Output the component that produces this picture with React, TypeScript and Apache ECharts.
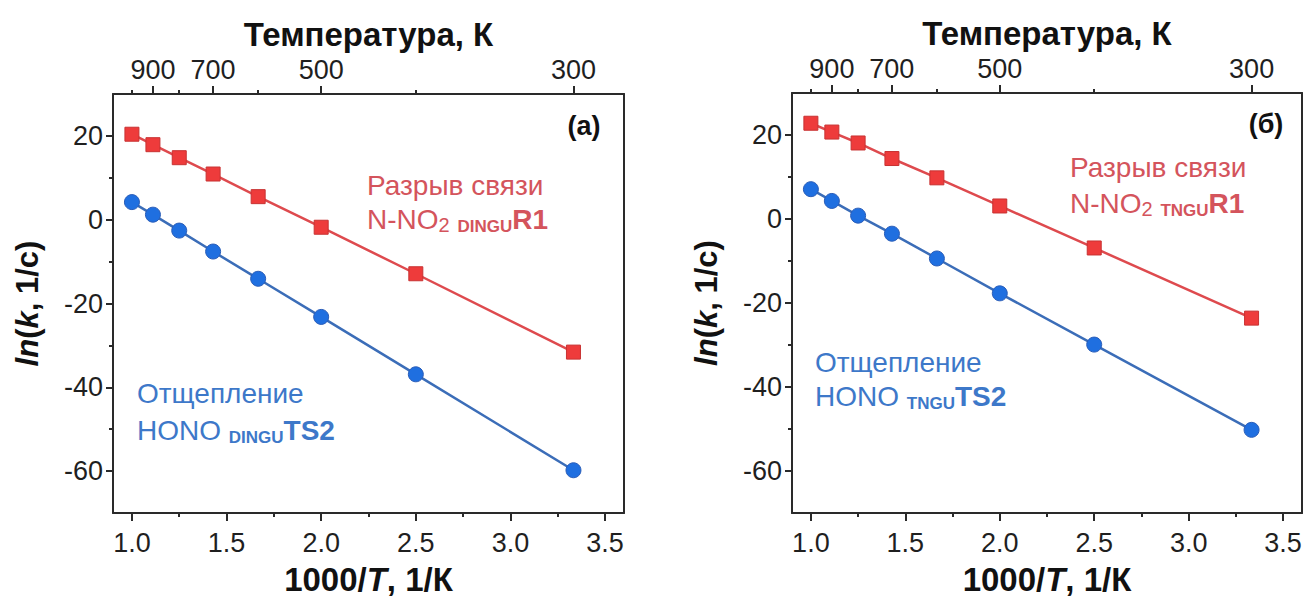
import React, { useEffect, useRef } from 'react';
import * as echarts from 'echarts';

// 1000/T values (T = 1000, 900, 800, 700, 600, 500, 400, 300 K)
const xVals = [1.0, 1.111, 1.25, 1.429, 1.667, 2.0, 2.5, 3.333];
// panel (а) DINGU
const aR1 = [20.4, 17.9, 14.8, 10.9, 5.5, -1.8, -12.9, -31.6];
const aTS2 = [4.2, 1.2, -2.6, -7.6, -14.1, -23.2, -36.9, -59.8];
// panel (б) TNGU
const bR1 = [22.8, 20.7, 18.1, 14.4, 9.8, 3.1, -6.9, -23.6];
const bTS2 = [7.1, 4.3, 0.8, -3.5, -9.4, -17.7, -29.9, -50.2];

const xMajor = [1.0, 1.5, 2.0, 2.5, 3.0, 3.5];
const xMinor = [1.25, 1.75, 2.25, 2.75, 3.25];
const yMajor = [-60, -40, -20, 0, 20];
const yMinor = [-50, -30, -10, 10];
const tempMajor = [900, 700, 500, 300];
const tempMinor = [1000, 800, 600, 400];

const FONT = '"Liberation Sans", Arial, sans-serif';
const AX = '#2a2a2a';
const RED = '#ee3b3b';
const RED_LINE = '#de4a4e';
const BLUE = '#1f6fe0';
const BLUE_LINE = '#3b6db8';
const RED_TXT = '#d4545c';
const BLUE_TXT = '#3d78c9';
const LBL = 27;
const TITLE = 33;

const tickStyle = { color: AX, width: 2 };

function xAxesFor(g: number) {
  const common = { gridIndex: g, type: 'value', min: 0.9, max: 3.6, splitLine: { show: false } };
  return [
    {
      ...common,
      position: 'bottom',
      axisLine: { show: true, onZero: false, lineStyle: tickStyle },
      axisTick: { show: true, length: 8, customValues: xMajor, lineStyle: tickStyle },
      axisLabel: {
        show: true, customValues: xMajor, formatter: (v: number) => v.toFixed(1),
        fontSize: LBL, color: '#1f1f1f', margin: 16, fontFamily: FONT,
      },
      name: '{b|1000/}{i|T}{b|, 1/К}',
      nameLocation: 'middle',
      nameGap: 50,
      nameTextStyle: {
        rich: {
          b: { fontSize: TITLE, fontWeight: 'bold', color: '#111', fontFamily: FONT },
          i: { fontSize: TITLE, fontWeight: 'bold', fontStyle: 'italic', color: '#111', fontFamily: FONT },
        },
      },
    },
    {
      ...common,
      position: 'bottom',
      axisLine: { show: false, onZero: false },
      axisTick: { show: true, length: 4, customValues: xMinor, lineStyle: tickStyle },
      axisLabel: { show: false },
    },
    {
      ...common,
      position: 'top',
      axisLine: { show: true, onZero: false, lineStyle: tickStyle },
      axisTick: { show: true, length: 8, customValues: tempMajor.map((t) => 1000 / t), lineStyle: tickStyle },
      axisLabel: {
        show: true, customValues: tempMajor.map((t) => 1000 / t),
        formatter: (v: number) => String(Math.round(1000 / v)),
        fontSize: LBL, color: '#1f1f1f', margin: 11, fontFamily: FONT,
      },
      name: 'Температура, К',
      nameLocation: 'middle',
      nameGap: 42,
      nameTextStyle: { fontSize: TITLE, fontWeight: 'bold', color: '#111', fontFamily: FONT },
    },
    {
      ...common,
      position: 'top',
      axisLine: { show: false, onZero: false },
      axisTick: { show: true, length: 4, customValues: tempMinor.map((t) => 1000 / t), lineStyle: tickStyle },
      axisLabel: { show: false },
    },
  ];
}

function yAxesFor(g: number) {
  const common = { gridIndex: g, type: 'value', min: -70, max: 30, splitLine: { show: false } };
  return [
    {
      ...common,
      position: 'left',
      axisLine: { show: true, onZero: false, lineStyle: tickStyle },
      axisTick: { show: true, length: 7, customValues: yMajor, lineStyle: tickStyle },
      axisLabel: {
        show: true, customValues: yMajor, fontSize: LBL, color: '#1f1f1f', margin: 10, fontFamily: FONT,
      },
      name: '{i|ln}{b|(}{i|k}{b|, 1/с)}',
      nameLocation: 'middle',
      nameRotate: 90,
      nameGap: 70,
      nameTextStyle: {
        rich: {
          b: { fontSize: 31, fontWeight: 'bold', color: '#111', fontFamily: FONT },
          i: { fontSize: 31, fontWeight: 'bold', fontStyle: 'italic', color: '#111', fontFamily: FONT },
        },
      },
    },
    {
      ...common,
      position: 'left',
      axisLine: { show: false, onZero: false },
      axisTick: { show: true, length: 4, customValues: yMinor, lineStyle: tickStyle },
      axisLabel: { show: false },
    },
    {
      ...common,
      position: 'right',
      axisLine: { show: true, onZero: false, lineStyle: tickStyle },
      axisTick: { show: false },
      axisLabel: { show: false },
    },
  ];
}

function lineSeries(name: string, ys: number[], xi: number, yi: number, red: boolean) {
  return {
    name,
    type: 'line',
    xAxisIndex: xi,
    yAxisIndex: yi,
    data: xVals.map((x, i) => [x, ys[i]]),
    symbol: red ? 'rect' : 'circle',
    symbolSize: red ? 14 : 15,
    itemStyle: red
      ? { color: RED, borderColor: '#c83232', borderWidth: 1 }
      : { color: BLUE, borderColor: '#2a5db8', borderWidth: 1 },
    lineStyle: { color: red ? RED_LINE : BLUE_LINE, width: 2.5 },
    z: red ? 3 : 2,
  };
}

const annRich = (c: string) => ({
  n: { fontSize: 28, fill: c, color: c, fontFamily: FONT, lineHeight: 32 },
  s: { fontSize: 20, fill: c, color: c, fontFamily: FONT, lineHeight: 18, verticalAlign: 'bottom' },
  sb: { fontSize: 17, fontWeight: 'bold', fill: c, color: c, fontFamily: FONT, lineHeight: 17, verticalAlign: 'bottom' },
  b: { fontSize: 28, fontWeight: 'bold', fill: c, color: c, fontFamily: FONT, lineHeight: 32 },
});

function txt(x: number, y: number, text: string, c: string) {
  return {
    type: 'text',
    x,
    y,
    style: { text, fill: c, rich: annRich(c), verticalAlign: 'middle', align: 'left' },
  };
}

export default function App() {
  const ref = useRef<HTMLDivElement>(null);
  useEffect(() => {
    if (!ref.current) return;
    const chart = echarts.init(ref.current, null, { renderer: 'svg' });
    chart.setOption({
      animation: false,
      backgroundColor: '#ffffff',
      grid: [
        { left: 113, top: 94, width: 511, height: 422 },
        { left: 792, top: 93, width: 510, height: 423 },
      ],
      xAxis: [...xAxesFor(0), ...xAxesFor(1)],
      yAxis: [...yAxesFor(0), ...yAxesFor(1)],
      series: [
        lineSeries('DINGU TS2', aTS2, 0, 0, false),
        lineSeries('DINGU R1', aR1, 0, 0, true),
        lineSeries('TNGU TS2', bTS2, 4, 3, false),
        lineSeries('TNGU R1', bR1, 4, 3, true),
      ],
      graphic: [
        txt(367, 185, '{n|Разрыв связи}', RED_TXT),
        txt(367, 219, '{n|N-NO}{s|2}{n| }{sb|DINGU}{b|R1}', RED_TXT),
        txt(137, 393, '{n|Отщепление}', BLUE_TXT),
        txt(137, 430, '{n|HONO }{sb|DINGU}{b|TS2}', BLUE_TXT),
        txt(1070, 167, '{n|Разрыв связи}', RED_TXT),
        txt(1070, 203, '{n|N-NO}{s|2}{n| }{sb|TNGU}{b|R1}', RED_TXT),
        txt(815, 362, '{n|Отщепление}', BLUE_TXT),
        txt(815, 396, '{n|HONO }{sb|TNGU}{b|TS2}', BLUE_TXT),
        {
          type: 'text', x: 584, y: 126,
          style: { text: '(а)', fontSize: 27, fontWeight: 'bold', fill: '#111', fontFamily: FONT, align: 'center', verticalAlign: 'middle' },
        },
        {
          type: 'text', x: 1266, y: 124,
          style: { text: '(б)', fontSize: 27, fontWeight: 'bold', fill: '#111', fontFamily: FONT, align: 'center', verticalAlign: 'middle' },
        },
      ],
    });
    return () => chart.dispose();
  }, []);
  return <div ref={ref} style={{ position: 'fixed', left: 0, top: 0, width: 1305, height: 601 }} />;
}
